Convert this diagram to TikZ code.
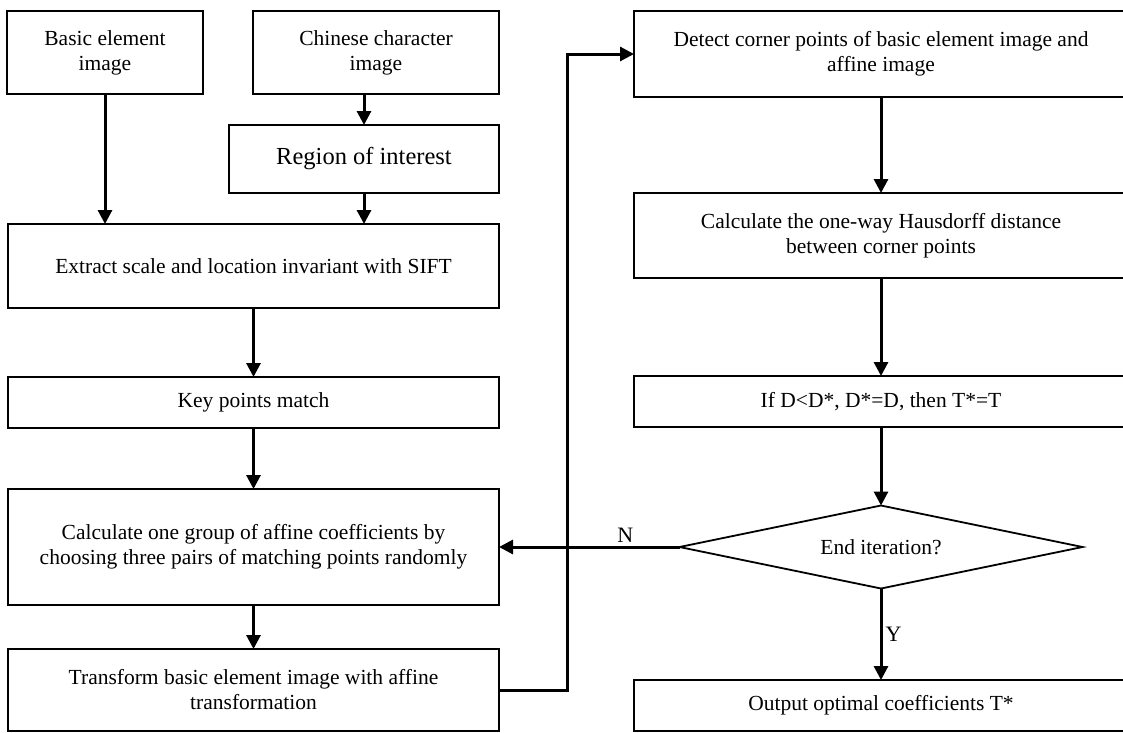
\documentclass[tikz,border=0pt]{standalone}
\usepackage{fontspec}
\setmainfont{Liberation Serif}
\usetikzlibrary{positioning,arrows.meta,shapes.geometric}

\tikzset{
  stage/.style={draw, rectangle, line width=1.8pt, align=center, inner sep=0pt, outer sep=0pt,
    font=\fontsize{21.5}{25}\selectfont},
  check/.style={draw, diamond, aspect=4.86, line width=1.8pt, minimum width=403pt, minimum height=83pt,
    inner sep=0pt, outer sep=0pt, font=\fontsize{21.5}{25}\selectfont},
  flow/.style={line width=3pt, -{Triangle[length=14pt,width=14pt]}},
  tag/.style={font=\fontsize{22}{25}\selectfont, inner sep=3pt}
}

\begin{document}
\begin{tikzpicture}[x=1pt, y=-1pt, on grid, auto]
    \useasboundingbox (0,0) rectangle (1123,732);

    \node[stage, minimum width=196pt, minimum height=83pt] (basic) at (105,52.5) {Basic element\\image};
    \node[stage, minimum width=246pt, minimum height=83pt] (chinese) [right=271pt of basic] {Chinese character\\image};
    \node[stage, minimum width=270pt, minimum height=68pt, font=\fontsize{24.5}{28}\selectfont] (roi) at (364,159) {Region of interest};
    \node[stage, minimum width=491pt, minimum height=84pt] (extract) at (253.5,266) {Extract scale and location invariant with SIFT};
    \node[stage, minimum width=491pt, minimum height=51pt] (match) [below=136.5pt of extract] {Key points match};
    \node[stage, minimum width=491pt, minimum height=116pt] (affine) [below=144.5pt of match] {Calculate one group of affine coefficients by\\choosing three pairs of matching points randomly};
    \node[stage, minimum width=491pt, minimum height=82pt] (transform) [below=143pt of affine] {Transform basic element image with affine\\transformation};

    \node[stage, minimum width=494pt, minimum height=86pt] (corner) at (881,54) {Detect corner points of basic element image and\\affine image};
    \node[stage, minimum width=494pt, minimum height=85pt] (hausdorff) [below=181.5pt of corner] {Calculate the one-way Hausdorff distance\\between corner points};
    \node[stage, minimum width=494pt, minimum height=51pt] (update) [below=166pt of hausdorff] {If D<D*, D*=D, then T*=T};
    \node[check] (stop) [below=145.5pt of update] {End iteration?};
    \node[stage, minimum width=494pt, minimum height=51pt] (output) [below=158.5pt of stop] {Output optimal coefficients T*};

    \coordinate (loop) at (567,0);

    \draw[flow] (basic.south) -- (basic.south |- extract.north);
    \draw[flow] (roi.north |- chinese.south) -- (roi.north);
    \draw[flow] (roi.south) -- (roi.south |- extract.north);
    \draw[flow] (extract) -- (match);
    \draw[flow] (match) -- (affine);
    \draw[flow] (affine) -- (transform);
    \draw[flow] (transform.east) -- (transform.east -| loop) |- (corner.west);
    \draw[flow] (corner) -- (hausdorff);
    \draw[flow] (hausdorff) -- (update);
    \draw[flow] (update) -- (stop);
    \draw[flow] (stop) -- node[tag, pos=0.5] {Y} (output);
    \draw[flow] (stop.west) -- node[tag, pos=0.3, above] {N} (stop.west -| affine.east);

\end{tikzpicture}
\end{document}
